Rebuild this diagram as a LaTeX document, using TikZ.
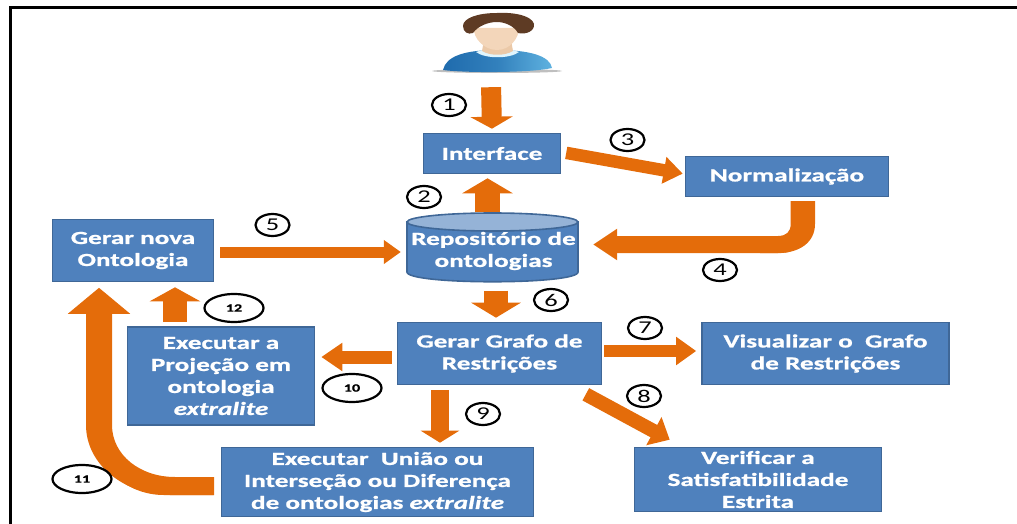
\documentclass[tikz,border=0pt]{standalone}
\usepackage{fontspec}
\setmainfont{Carlito}[FakeStretch=1.47, BoldFeatures={FakeBold=1}, BoldItalicFeatures={FakeBold=1}]
\usetikzlibrary{positioning, arrows.meta, shapes.geometric}
\definecolor{boxblue}{HTML}{4F81BD}
\definecolor{boxline}{HTML}{3F6797}
\definecolor{toplid}{HTML}{95B3D7}
\definecolor{flowc}{HTML}{E46C0A}
\definecolor{hair}{HTML}{5E3B24}
\definecolor{skin}{HTML}{F3D6BA}
\definecolor{shirtl}{HTML}{1F6BAD}
\definecolor{shirtr}{HTML}{5FB2E0}
\tikzset{
  block text/.style={text=white, align=center, inner sep=0pt,
    font=\fontsize{18.5}{22}\selectfont\bfseries},
  block/.style={block text, draw=boxline, line width=1.6pt, fill=boxblue},
  flow/.style={draw=flowc, line width=#1},
  step num/.style={draw, ellipse, line width=2.2pt, fill=white, minimum width=34pt,
    minimum height=22pt, inner sep=0pt, font=\fontsize{18}{18}\selectfont},
  step wide/.style={draw, ellipse, line width=2.2pt, fill=white, minimum width=59pt,
    minimum height=28pt, inner sep=0pt, font=\fontsize{11}{11}\selectfont\bfseries}
}

\begin{document}
\begin{tikzpicture}[x=1pt, y=-1pt]
    \useasboundingbox (0,0) rectangle (1017,524);
    \draw[line width=3pt] (10,524) -- (10,7.5) -- (1017,7.5);

    % user figure
    \node[minimum width=120pt, minimum height=70pt, inner sep=0pt] (user) at (491,48) {};
    \fill[black!25] (497,71) ellipse (65 and 2);
    \shade[left color=shirtl, right color=shirtr, middle color=shirtl!70!shirtr]
      (443,70) .. controls (446,56) and (465,50) .. (497,50)
      .. controls (530,50) and (550,56) .. (552,68) .. controls (530,73) and (465,73) .. (443,70) -- cycle;
    \fill[cyan!12!white] (476,52) .. controls (485,48) and (510,48) .. (519,52)
      .. controls (510,59) and (485,59) .. (476,52) -- cycle;
    \fill[skin!85!brown] (484,40) -- (511,40) -- (513,51) .. controls (505,56) and (490,56) .. (482,51) -- cycle;
    \fill[skin] (474,28) .. controls (473,38) and (484,50) .. (497,50)
      .. controls (510,50) and (519,38) .. (519,28) -- cycle;
    \fill[hair] (473,33) .. controls (478,26) and (488,22) .. (497,22)
      .. controls (505,22) and (514,26) .. (518,33) .. controls (526,35) and (535,31) .. (534,24)
      .. controls (532,16) and (515,12) .. (497,13) .. controls (478,13) and (463,18) .. (463,26)
      .. controls (463,32) and (468,35) .. (473,33) -- cycle;

    \node[block, minimum width=137pt, minimum height=40pt] (iface) at (492,153.5) {Interface};
    \node[block, minimum width=203pt, minimum height=40pt] (norm) at (787,176.5) {Normalização};
    % repository drum
    \filldraw[draw=boxline, fill=boxblue, line width=1.6pt] (407,222) -- (407,272)
      .. controls (407,285) and (578,285) .. (578,272) -- (578,222) -- cycle;
    \filldraw[draw=boxline, fill=toplid, line width=1.6pt] (492.5,222) ellipse (85.5 and 9);
    \node[block text, minimum width=171pt, minimum height=69pt] (repo) at (493.5,251) {Repositório de\\ontologias};
    \node[block, minimum width=161pt, minimum height=62pt] (nova) at (133,250.5) {Gerar nova\\Ontologia};
    \node[block, minimum width=204pt, minimum height=62pt] (grafo) at (499.5,353.5) {Gerar Grafo de\\Restrições};
    \node[block, minimum width=247pt, minimum height=62pt] (visual) at (825.5,353.5) {Visualizar o~ Grafo\\de Restrições};
    \node[block, minimum width=187pt, minimum height=98pt] (proj) at (221,376) {Executar a\\Projeção em\\ontologia\\\textit{extralite}};
    \node[block, minimum width=312pt, minimum height=69pt] (uniao) at (377.5,482) {Executar~ União ou\\Interseção ou Diferença\\de ontologias \textit{extralite}};
    \node[block, minimum width=247pt, minimum height=64pt] (verif) at (758,479.5) {Verificar a\\Satisfatibilidade\\Estrita};

    % arrows between the steps
    \draw[flow=20pt, -{Triangle[length=12pt, width=42pt]}, shorten >=4pt, shorten <=4pt]
      (user.south) -- (iface.north);
    \draw[flow=25pt, -{Triangle[length=15pt, width=50pt]}, shorten >=4pt, shorten <=4pt]
      (repo.north -| 487.5,0) -- (iface.south -| 487.5,0);
    \draw[flow=12.5pt, -{Triangle[length=19pt, width=26pt]}, shorten >=2pt, shorten <=5pt]
      ([yshift=1.5pt]iface.east) -- ([yshift=2.5pt]norm.west);
    % wide bend of the arrow coming back from the normalisation
    \fill[flowc] (790.7,201) -- (815,201) -- (815,224) .. controls (815,242) and (800,253) .. (778,253)
      -- (760,253) -- (760,236) -- (778,236) .. controls (786,236) and (790.7,232) .. (790.7,224) -- cycle;
    \draw[flow=17pt, -{Triangle[length=24pt, width=30pt]}, shorten >=14pt, shorten <=5pt, rounded corners=22pt]
      ([xshift=16pt]norm.south) |- (repo.east |- 0,244.5);
    \draw[flow=11pt, -{Triangle[length=17pt, width=23pt]}, shorten >=7pt, shorten <=6pt]
      (nova.east |- 0,252) -- (repo.west |- 0,252);
    \draw[flow=24pt, -{Triangle[length=15pt, width=49pt]}, shorten >=4pt, shorten <=5pt]
      (repo.south -| 496,0) -- (grafo.north -| 496,0);
    \draw[flow=12pt, -{Triangle[length=20pt, width=27pt]}, shorten >=5pt, shorten <=2pt]
      (grafo.east |- 0,351) -- (visual.west |- 0,351);
    \draw[flow=14pt, -{Triangle[length=18pt, width=31pt]}, shorten >=0pt, shorten <=0pt]
      ([xshift=-16.5pt, yshift=-9pt]grafo.south east) -- ([xshift=-88.3pt, yshift=7pt]verif.north);
    \draw[flow=18pt, -{Triangle[length=12pt, width=38pt]}, shorten >=4pt, shorten <=5pt]
      (grafo.south -| 440,0) -- (uniao.north -| 440,0);
    \draw[flow=13pt, -{Triangle[length=21pt, width=27pt]}, shorten >=6pt, shorten <=5pt]
      (grafo.west |- 0,357) -- (proj.east |- 0,357);
    % wide bend of the arrow from the set operations
    \fill[flowc] (214,477) -- (175,477) .. controls (140,477) and (112,455) .. (112,425) -- (112,305)
      -- (86,305) -- (86,425) .. controls (86,465) and (125,495) .. (170,495) -- (214,495) -- cycle;
    \draw[flow=18pt, -{Triangle[length=26pt, width=61pt]}, shorten >=5.5pt, shorten <=7pt, rounded corners=65pt]
      (uniao.west |- 0,486) -| (nova.south -| 99,0);
    \draw[flow=24pt, -{Triangle[length=14pt, width=50pt]}, shorten >=5pt, shorten <=4pt]
      (proj.north -| 175,0) -- (nova.south -| 175,0);

    % step numbers
    \node[step num] (n1) at (449,105) {1};
    \node[step num] (n2) at (424,197) {2};
    \node[step num] (n3) at (627.5,140) {3};
    \node[step num] (n4) at (720,270) {4};
    \node[step num] (n5) at (272.5,225) {5};
    \node[step num] (n6) at (551,300) {6};
    \node[step num] (n7) at (645,328) {7};
    \node[step num] (n8) at (644,396) {8};
    \node[step num] (n9) at (483,414) {9};
    \node[step wide] (n10) at (352,388) {10};
    \node[step wide] (n11) at (82,479) {11};
    \node[step wide] (n12) at (234,308) {12};
\end{tikzpicture}
\end{document}
